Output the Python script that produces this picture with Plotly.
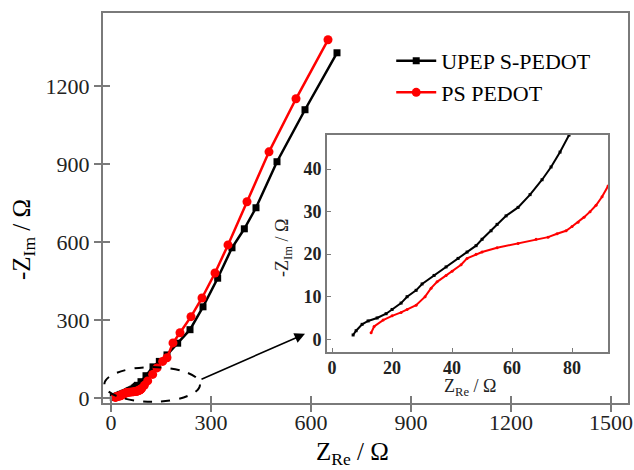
import plotly.graph_objects as go

# Low-frequency part of the impedance spectra (also shown in the inset)
upep_zre_lo = [7, 8, 10, 12, 15, 18, 20, 23, 25, 28, 30, 34, 38, 42, 45, 48, 50, 53, 55, 58, 62, 66, 70, 73, 76, 79]
upep_zim_lo = [1, 2, 3.5, 4.3, 5, 6, 7, 8.5, 10, 11.5, 13, 15, 17, 19, 20.5, 22, 23.5, 25.5, 27, 29, 31, 34, 37.5, 40.5, 44, 48]
ps_zre_lo = [13, 14, 17, 20, 23, 25, 28, 31, 33, 35, 38, 40, 43, 45, 48, 50, 55, 62, 68, 72, 75, 78, 80, 82, 84, 86, 88, 90, 92]
ps_zim_lo = [1.5, 3, 4.5, 5.5, 6.3, 7, 8, 10, 12, 13.5, 15, 16, 17.5, 19, 20, 20.5, 21.5, 22.5, 23.5, 24, 24.8, 25.5, 26.5, 27.5, 28.7, 30, 31.5, 33.5, 36]

# High-frequency continuation (main plot only)
upep_zre_hi = [90, 105, 126, 145, 168, 200, 237, 276, 320, 363, 400, 435, 498, 582, 678]
upep_zim_hi = [62, 85, 119, 140, 165, 210, 262, 350, 460, 577, 650, 731, 908, 1108, 1327]
ps_zre_hi = [100, 110, 125, 138, 155, 168, 186, 207, 240, 273, 312, 351, 408, 474, 555, 651]
ps_zim_hi = [48, 65, 90, 115, 140, 154, 211, 250, 312, 384, 480, 588, 754, 946, 1150, 1377]

x_ticks = [0, 300, 600, 900, 1200, 1500]
y_ticks = [0, 300, 600, 900, 1200]
inset_x_ticks = [0, 20, 40, 60, 80]
inset_y_ticks = [0, 10, 20, 30, 40]

SERIF = "Liberation Serif"
FRAME = "#7a7a7a"

fig = go.Figure()

fig.add_trace(go.Scatter(
    x=upep_zre_lo + upep_zre_hi, y=upep_zim_lo + upep_zim_hi,
    mode="lines+markers", name="UPEP S-PEDOT",
    line=dict(color="black", width=2.5),
    marker=dict(symbol="square", size=7, color="black"),
))
fig.add_trace(go.Scatter(
    x=ps_zre_lo + ps_zre_hi, y=ps_zim_lo + ps_zim_hi,
    mode="lines+markers", name="PS PEDOT",
    line=dict(color="red", width=2.5),
    marker=dict(symbol="circle", size=9, color="red"),
))

# Inset: zoom on the low-impedance region
fig.add_trace(go.Scatter(
    x=upep_zre_lo, y=upep_zim_lo, xaxis="x2", yaxis="y2",
    mode="lines+markers", showlegend=False,
    line=dict(color="black", width=2), marker=dict(symbol="square", size=3, color="black"),
))
fig.add_trace(go.Scatter(
    x=ps_zre_lo, y=ps_zim_lo, xaxis="x2", yaxis="y2",
    mode="lines+markers", showlegend=False,
    line=dict(color="red", width=2), marker=dict(symbol="circle", size=3, color="red"),
))

# Invisible trace so the overlay tick axes are rendered
fig.add_trace(go.Scatter(x=[None], y=[None], xaxis="x3", yaxis="y3",
                         showlegend=False, hoverinfo="skip"))

main_tick_font = dict(family=SERIF, size=22, color="#222")
inset_tick_font = dict(family=SERIF, size=18, color="#222", weight="bold")

fig.update_layout(
    width=634, height=470,
    margin=dict(l=103, r=6, t=13, b=67),
    paper_bgcolor="white", plot_bgcolor="white",
    showlegend=True,
    legend=dict(
        x=0.549, y=0.931, xanchor="left", yanchor="top",
        font=dict(family=SERIF, size=22, color="black"),
        bgcolor="rgba(0,0,0,0)", tracegroupgap=0, itemwidth=40,
    ),
    xaxis=dict(
        range=[-24, 1551], tickvals=x_ticks, ticks="outside", ticklen=7, tickwidth=1.5,
        tickcolor=FRAME, showline=True, linecolor=FRAME, linewidth=2, mirror=True,
        showgrid=False, zeroline=False, tickfont=main_tick_font, automargin=False,
        ticklabelstandoff=-8,
    ),
    yaxis=dict(
        range=[-20, 1480], tickvals=y_ticks, ticks="outside", ticklen=7, tickwidth=1.5,
        tickcolor=FRAME, showline=True, linecolor=FRAME, linewidth=2, mirror=True,
        showgrid=False, zeroline=False, tickfont=main_tick_font, automargin=False,
    ),
    # inward tick halves so the main ticks cross the frame
    xaxis3=dict(
        overlaying="x", matches="x", anchor="y", side="bottom", tickvals=x_ticks,
        ticks="inside", ticklen=7, tickwidth=1.5, tickcolor=FRAME, automargin=False,
        showticklabels=False, showgrid=False, zeroline=False, showline=False,
    ),
    yaxis3=dict(
        overlaying="y", matches="y", anchor="x", side="left", tickvals=y_ticks,
        ticks="inside", ticklen=7, tickwidth=1.5, tickcolor=FRAME, automargin=False,
        showticklabels=False, showgrid=False, zeroline=False, showline=False,
    ),
    xaxis2=dict(
        domain=[0.4267, 0.962], anchor="y2", range=[-1.7, 92],
        tickvals=inset_x_ticks, ticks="inside", ticklen=4, tickcolor=FRAME,
        showline=True, linecolor=FRAME, linewidth=2, mirror=True, automargin=False,
        showgrid=False, zeroline=False, tickfont=inset_tick_font, ticklabelstandoff=-2,
    ),
    yaxis2=dict(
        domain=[0.1308, 0.687], anchor="x2", range=[-3, 48],
        tickvals=inset_y_ticks, ticks="inside", ticklen=4, tickcolor=FRAME,
        showline=True, linecolor=FRAME, linewidth=2, mirror=True, automargin=False,
        showgrid=False, zeroline=False, tickfont=inset_tick_font,
    ),
)

# White background behind the inset
fig.add_shape(type="rect", xref="x2 domain", yref="y2 domain", x0=0, x1=1, y0=0, y1=1,
              fillcolor="white", line=dict(width=0), layer="below")

# Dashed ellipse marking the zoomed region
fig.add_shape(type="circle", xref="x", yref="y", x0=-20, x1=267, y0=-15, y1=118,
              line=dict(color="black", width=2, dash="dash"))

# Arrow pointing to the inset
fig.add_annotation(x=582, y=246, ax=267, ay=69, xref="x", yref="y", axref="x", ayref="y",
                   text="", showarrow=True, arrowhead=2, arrowsize=1.3, arrowwidth=1.6,
                   arrowcolor="black")

# Axis titles
def px_x(p):
    return (p - 103) / 525

def px_y(p):
    return (403 - p) / 390

title_kw = dict(xref="paper", yref="paper", showarrow=False, xanchor="center", yanchor="middle")
fig.add_annotation(text="Z<sub>Re</sub> / Ω", x=px_x(352), y=px_y(453),
                   font=dict(family=SERIF, size=25, color="black"), **title_kw)
fig.add_annotation(text="-Z<sub>Im</sub> / Ω", x=px_x(24), y=px_y(240), textangle=-90,
                   font=dict(family=SERIF, size=25, color="black"), **title_kw)
fig.add_annotation(text="Z<sub>Re</sub> / Ω", x=px_x(470), y=px_y(387),
                   font=dict(family=SERIF, size=18, color="#222"), **title_kw)
fig.add_annotation(text="-Z<sub>Im</sub> / Ω", x=px_x(283), y=px_y(248), textangle=-90,
                   font=dict(family=SERIF, size=18, color="#222"), **title_kw)

fig.write_html("out.html")
